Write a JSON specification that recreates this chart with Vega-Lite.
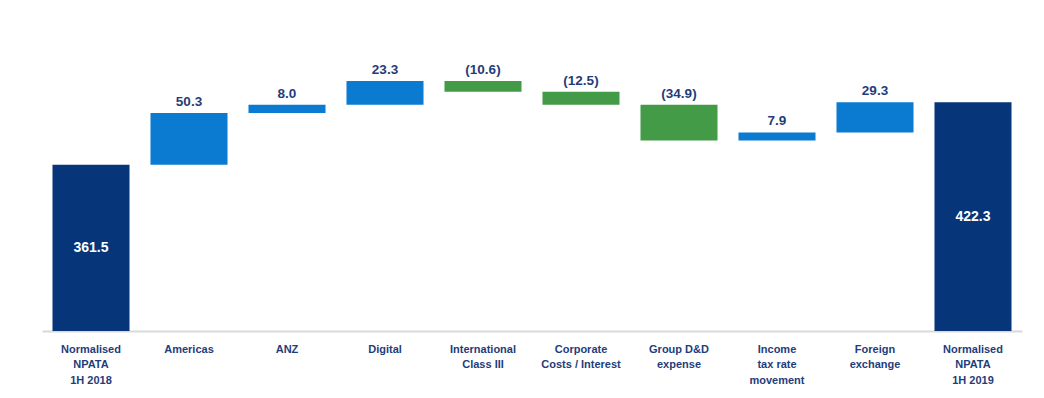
{
  "$schema": "https://vega.github.io/schema/vega-lite/v6.json",
  "width": 980,
  "height": 321,
  "autosize": {"type": "none"},
  "padding": {"left": 42, "top": 10, "right": 22, "bottom": 67},
  "background": "white",
  "config": {"view": {"stroke": null}, "font": "Liberation Sans"},
  "data": {
    "values": [
      {"cat": "Normalised|NPATA|1H 2018", "start": 0, "end": 361.5, "label": "361.5", "kind": "total"},
      {"cat": "Americas", "start": 361.5, "end": 411.8, "label": "50.3", "kind": "up"},
      {"cat": "ANZ", "start": 411.8, "end": 419.8, "label": "8.0", "kind": "up"},
      {"cat": "Digital", "start": 419.8, "end": 443.1, "label": "23.3", "kind": "up"},
      {"cat": "International|Class III", "start": 443.1, "end": 432.5, "label": "(10.6)", "kind": "down"},
      {"cat": "Corporate|Costs / Interest", "start": 432.5, "end": 420.0, "label": "(12.5)", "kind": "down"},
      {"cat": "Group D&D|expense", "start": 420.0, "end": 385.1, "label": "(34.9)", "kind": "down"},
      {"cat": "Income|tax rate|movement", "start": 385.1, "end": 393.0, "label": "7.9", "kind": "up"},
      {"cat": "Foreign|exchange", "start": 393.0, "end": 422.3, "label": "29.3", "kind": "up"},
      {"cat": "Normalised|NPATA|1H 2019", "start": 0, "end": 422.3, "label": "422.3", "kind": "total"}
    ]
  },
  "encoding": {
    "x": {
      "field": "cat",
      "type": "nominal",
      "sort": null,
      "scale": {"paddingInner": 0.214, "paddingOuter": 0.107},
      "axis": {
        "title": null,
        "labelAngle": 0,
        "labelExpr": "split(datum.label, '|')",
        "labelFontSize": 11,
        "labelFontWeight": "bold",
        "labelColor": "#1F3D7A",
        "labelPadding": 12,
        "labelLineHeight": 15.5,
        "labelLimit": 0,
        "ticks": false,
        "domain": true,
        "domainColor": "#d9d9d9",
        "domainWidth": 2
      }
    }
  },
  "layer": [
    {
      "mark": {"type": "bar", "clip": true},
      "encoding": {
        "y": {"field": "start", "type": "quantitative", "scale": {"domain": [200, 512], "zero": false, "nice": false}, "axis": null},
        "y2": {"field": "end"},
        "color": {
          "field": "kind",
          "type": "nominal",
          "scale": {"domain": ["total", "up", "down"], "range": ["#06357A", "#0A7BD0", "#439B47"]},
          "legend": null
        }
      }
    },
    {
      "transform": [{"filter": "datum.kind != 'total'"}, {"calculate": "max(datum.start, datum.end)", "as": "top"}],
      "mark": {"type": "text", "baseline": "bottom", "dy": -4, "fontSize": 13.5, "fontWeight": "bold", "color": "#1F3D7A"},
      "encoding": {
        "y": {"field": "top", "type": "quantitative"},
        "text": {"field": "label"}
      }
    },
    {
      "transform": [{"filter": "datum.kind == 'total'"}, {"calculate": "(200 + datum.end) / 2", "as": "mid"}],
      "mark": {"type": "text", "baseline": "middle", "fontSize": 14, "fontWeight": "bold", "color": "white"},
      "encoding": {
        "y": {"field": "mid", "type": "quantitative"},
        "text": {"field": "label"}
      }
    }
  ]
}
